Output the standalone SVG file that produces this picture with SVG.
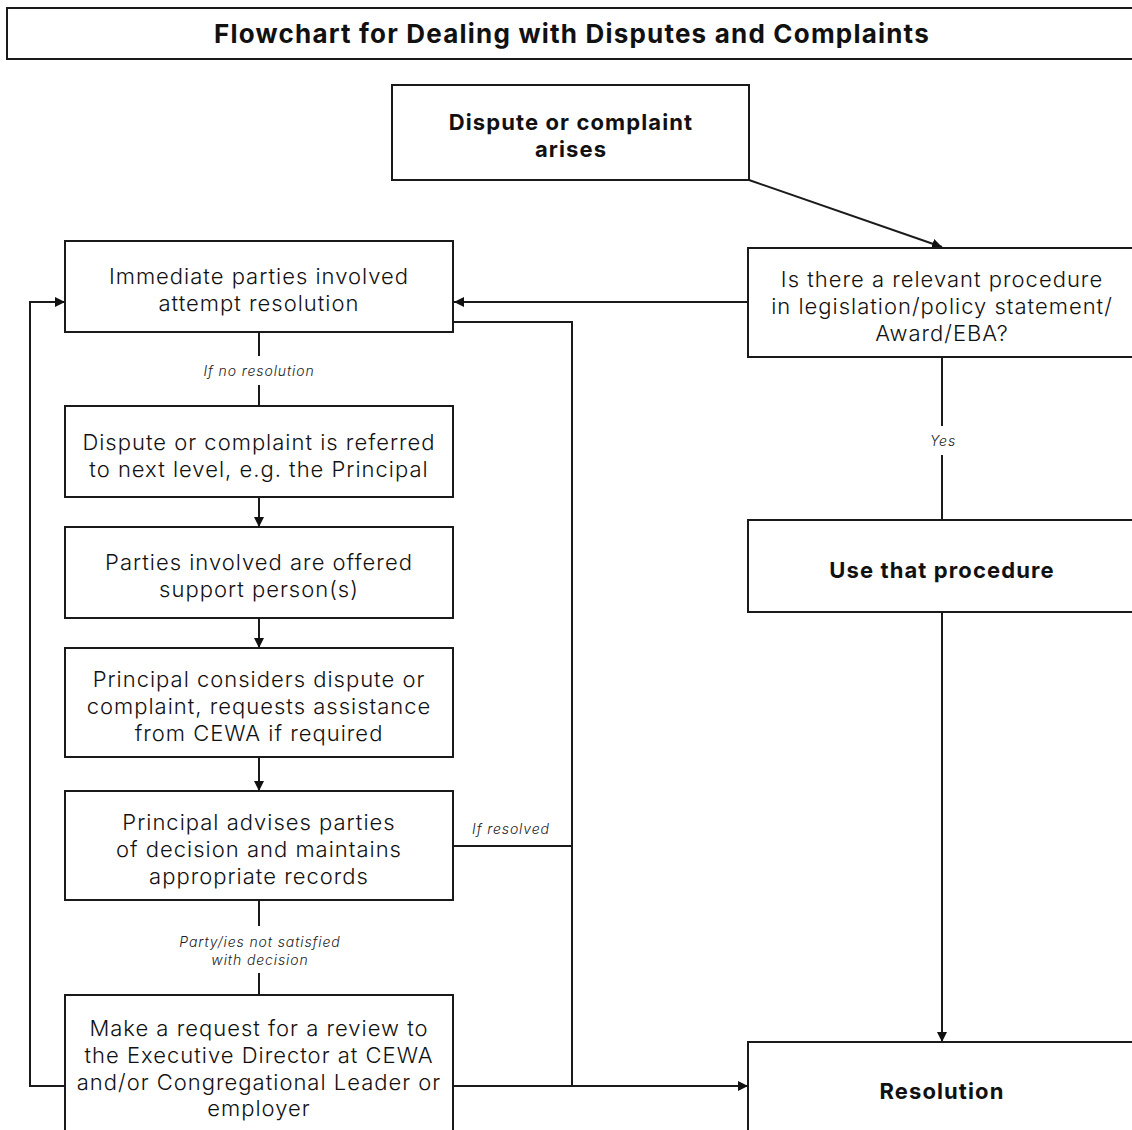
<svg xmlns="http://www.w3.org/2000/svg" width="1132" height="1130" viewBox="0 0 1132 1130">
<style>
.box{fill:#fff;stroke:#1a1a1a;stroke-width:2}
.t{font-family:Inter,"Liberation Sans",sans-serif;font-size:22px;fill:#111;text-anchor:middle;font-weight:300;letter-spacing:1px}
.b{font-weight:bold;letter-spacing:1.1px}
.lbl{font-family:Inter,"Liberation Sans",sans-serif;font-size:14px;font-style:italic;fill:#222;text-anchor:middle;font-weight:300;letter-spacing:0.9px}
.c{fill:none;stroke:#1a1a1a;stroke-width:2}
</style>
<defs>
<marker id="ah" viewBox="0 0 10 10" refX="10" refY="5" markerWidth="10" markerHeight="10" markerUnits="userSpaceOnUse" orient="auto">
<path d="M0,0 L10,5 L0,10 z" fill="#111"/>
</marker>
</defs>
<rect width="1132" height="1130" fill="#fff"/>
<g id="title">
<rect class="box" x="7" y="8" width="1135" height="51"/>
<text class="t b" x="572" y="43" style="font-size:26px;letter-spacing:1.2px">Flowchart for Dealing with Disputes and Complaints</text>
</g>
<g id="connectors">
<path class="c" d="M749,180 L942,247" marker-end="url(#ah)"/>
<path class="c" d="M748,302 L454,302" marker-end="url(#ah)"/>
<path class="c" d="M259,332 V356 M259,385 V406"/>
<path class="c" d="M259,497 V527" marker-end="url(#ah)"/>
<path class="c" d="M259,618 V648" marker-end="url(#ah)"/>
<path class="c" d="M259,757 V791" marker-end="url(#ah)"/>
<path class="c" d="M259,900 V926 M259,973 V995"/>
<path class="c" d="M942,357 V426 M942,455 V520"/>
<path class="c" d="M942,612 V1042" marker-end="url(#ah)"/>
<path class="c" d="M453,322 H572 V1086"/>
<path class="c" d="M453,846 H572"/>
<path class="c" d="M453,1086 H748" marker-end="url(#ah)"/>
<path class="c" d="M65,1086 H30 V302 H65" marker-end="url(#ah)"/>
<text class="lbl" x="259" y="376">If no resolution</text>
<text class="lbl" x="943" y="446">Yes</text>
<text class="lbl" x="511" y="834">If resolved</text>
<text class="lbl" x="260" y="947">Party/ies not satisfied</text>
<text class="lbl" x="260" y="965">with decision</text>
</g>
<g id="start">
<rect class="box" x="392" y="85" width="357" height="95"/>
<text class="t b" x="571" y="130">Dispute or complaint</text>
<text class="t b" x="571" y="157">arises</text>
</g>
<g id="decision">
<rect class="box" x="748" y="248" width="394" height="109"/>
<text class="t" x="942" y="287">Is there a relevant procedure</text>
<text class="t" x="942" y="314">in legislation/policy statement/</text>
<text class="t" x="942" y="341">Award/EBA?</text>
</g>
<g id="use-procedure">
<rect class="box" x="748" y="520" width="394" height="92"/>
<text class="t b" x="942" y="578">Use that procedure</text>
</g>
<g id="resolution">
<rect class="box" x="748" y="1042" width="394" height="100"/>
<text class="t b" x="942" y="1099">Resolution</text>
</g>
<g id="immediate">
<rect class="box" x="65" y="241" width="388" height="91"/>
<text class="t" x="259" y="284">Immediate parties involved</text>
<text class="t" x="259" y="311">attempt resolution</text>
</g>
<g id="referred">
<rect class="box" x="65" y="406" width="388" height="91"/>
<text class="t" x="259" y="450">Dispute or complaint is referred</text>
<text class="t" x="259" y="477">to next level, e.g. the Principal</text>
</g>
<g id="support">
<rect class="box" x="65" y="527" width="388" height="91"/>
<text class="t" x="259" y="570">Parties involved are offered</text>
<text class="t" x="259" y="597">support person(s)</text>
</g>
<g id="considers">
<rect class="box" x="65" y="648" width="388" height="109"/>
<text class="t" x="259" y="687">Principal considers dispute or</text>
<text class="t" x="259" y="714">complaint, requests assistance</text>
<text class="t" x="259" y="741">from CEWA if required</text>
</g>
<g id="advises">
<rect class="box" x="65" y="791" width="388" height="109"/>
<text class="t" x="259" y="830">Principal advises parties</text>
<text class="t" x="259" y="857">of decision and maintains</text>
<text class="t" x="259" y="884">appropriate records</text>
</g>
<g id="review">
<rect class="box" x="65" y="995" width="388" height="150"/>
<text class="t" x="259" y="1036">Make a request for a review to</text>
<text class="t" x="259" y="1063">the Executive Director at CEWA</text>
<text class="t" x="259" y="1090">and/or Congregational Leader or</text>
<text class="t" x="259" y="1116">employer</text>
</g>
</svg>
